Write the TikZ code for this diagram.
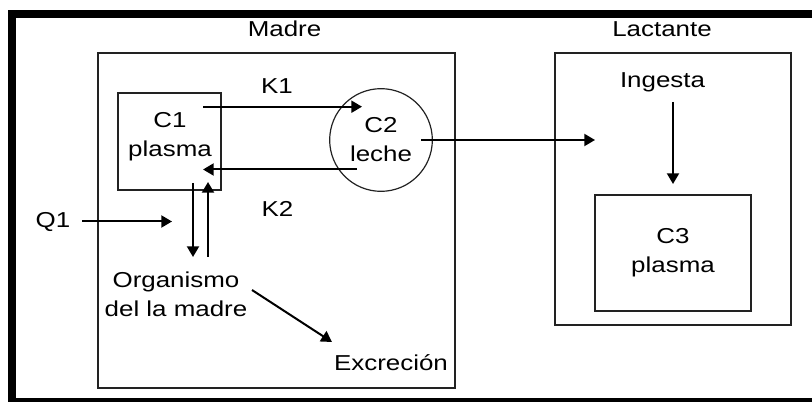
\documentclass[tikz,border=0pt]{standalone}
\usepackage{fontspec}
\setmainfont{Liberation Sans}[FakeStretch=1.2]
\usetikzlibrary{arrows.meta}

\begin{document}
\begin{tikzpicture}[
    x=0.75pt, y=-0.75pt,
    every node/.style={font=\fontsize{16.2}{21.75}\selectfont, inner sep=0pt, align=center},
    box/.style={draw=linecolor, line width=0.9pt},
    flow/.style={-{Triangle[length=8pt, width=9pt]}, line width=1.5pt},
]

\definecolor{linecolor}{HTML}{222222}

% page is 812 x 402 px; the thick frame runs off the right edge
\useasboundingbox (0,0) rectangle (812,402);
\clip (0,0) rectangle (812,402);
\draw[line width=5.8pt] (12,13.7) rectangle (820,401.5);

% ---------------------------------------------------------------- madre
\node[anchor=base] (madre) at (284.5,36.7) {Madre};
\node[box, minimum width=267.75pt, minimum height=251.25pt] (madrebox) at (276.5,220.5) {};

\node[box, minimum width=77.25pt, minimum height=72.75pt] (c1) at (169.5,141.5) {};
\node (c1text) at (170,137) {C1\\plasma};
\node[box, circle, minimum size=77pt] (c2) at (381,140) {C2\\leche};

\node[anchor=base] (k1) at (277,94) {K1};
\node[anchor=base] (k2) at (277.5,216.7) {K2};
\node[anchor=base] (q1) at (53,228) {Q1};
\node (organismo) at (176,294) {Organismo\\del la madre};
\node[anchor=base] (excrecion) at (391,370) {Excreción};

% ---------------------------------------------------------------- lactante
\node[anchor=base] (lactante) at (662,36.7) {Lactante};
\node[box, minimum width=177pt, minimum height=204pt] (lactbox) at (673,189) {};
\node[anchor=base] (ingesta) at (662.5,88) {Ingesta};
\node[box, line width=1.8pt, minimum width=117pt, minimum height=87pt] (c3) at (673,253) {C3\\plasma};

% ---------------------------------------------------------------- arrow ends
\coordinate (k1 from) at (203,106.7);
\coordinate (k1 to) at (362,106.7);
\coordinate (k2 from) at (357,169.5);
\coordinate (k2 to) at (203,169.5);
\coordinate (down from) at (193,183);
\coordinate (down to) at (193,257);
\coordinate (up from) at (208,257);
\coordinate (up to) at (208,182);
\coordinate (q1 from) at (82,221.5);
\coordinate (q1 to) at (172,221.5);
\coordinate (excr from) at (252,290);
\coordinate (excr to) at (332,342);
\coordinate (milk from) at (421,140);
\coordinate (milk to) at (595,140);
\coordinate (ing from) at (673,102);
\coordinate (ing to) at (673,184);

% ---------------------------------------------------------------- arrows
\draw[flow] (k1 from) -- (k1 to);
\draw[flow] (k2 from) -- (k2 to);
\draw[flow] (down from) -- (down to);
\draw[flow] (up from) -- (up to);
\draw[flow] (q1 from) -- (q1 to);
\draw[flow] (excr from) -- (excr to);
\draw[flow] (milk from) -- (milk to);
\draw[flow] (ing from) -- (ing to);

\end{tikzpicture}
\end{document}
